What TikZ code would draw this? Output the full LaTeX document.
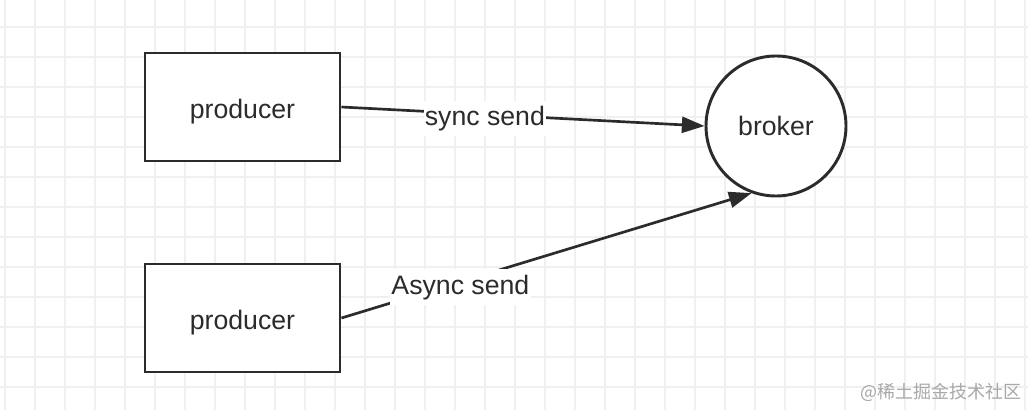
\documentclass[tikz,border=0pt]{standalone}
\usepackage{fontspec}
\setmainfont{Liberation Sans}
\newfontfamily\cjk{Noto Sans CJK SC}
\usetikzlibrary{arrows.meta}
\definecolor{ink}{HTML}{2B2B2B}
\definecolor{gridc}{HTML}{F0F0F0}
\definecolor{wm}{HTML}{A8A8A8}
\begin{document}
\begin{tikzpicture}[x=0.75pt,y=-0.75pt,
  box/.style={draw=ink,line width=2.2pt,fill=white,minimum width=146.25pt,minimum height=81pt,inner sep=0pt,text height=17.5pt,text depth=0pt,font=\fontsize{20pt}{24pt}\selectfont,text=ink},
  round/.style={circle,draw=ink,line width=2.2pt,fill=white,minimum size=105pt,inner sep=0pt,font=\fontsize{20pt}{24pt}\selectfont,text=ink},
  conn/.style={draw=ink,line width=2pt,-{Triangle[length=17pt,width=12pt]}},
  lbl/.style={fill=white,inner xsep=1pt,inner ysep=4pt,font=\fontsize{20pt}{24pt}\selectfont,text=ink}]
\useasboundingbox (0,0) rectangle (1028,410);
\fill[white] (0,0) rectangle (1028,410);
\foreach \x in {5,35,...,1025} \draw[gridc,line width=1.1pt] (\x,0) -- (\x,410);
\foreach \y in {27,57,...,410} \draw[gridc,line width=1.1pt] (0,\y) -- (1028,\y);
\node[box] (p1) at (242.5,107) {producer};
\node[box] (p2) at (242.5,318) {producer};
\node[round] (b) at (776,126) {broker};
\draw[conn] (p1.east) -- node[lbl,pos=0.395,yshift=-3pt] {sync send} (b.west);
\draw[conn] (p2.east) -- node[lbl,pos=0.29,yshift=-4pt] {Async send} (b.-110);
\node[text=wm,font=\cjk\fontsize{13.5pt}{16pt}\selectfont] (wmk) at (941,392) {@稀土掘金技术社区};
\end{tikzpicture}
\end{document}
